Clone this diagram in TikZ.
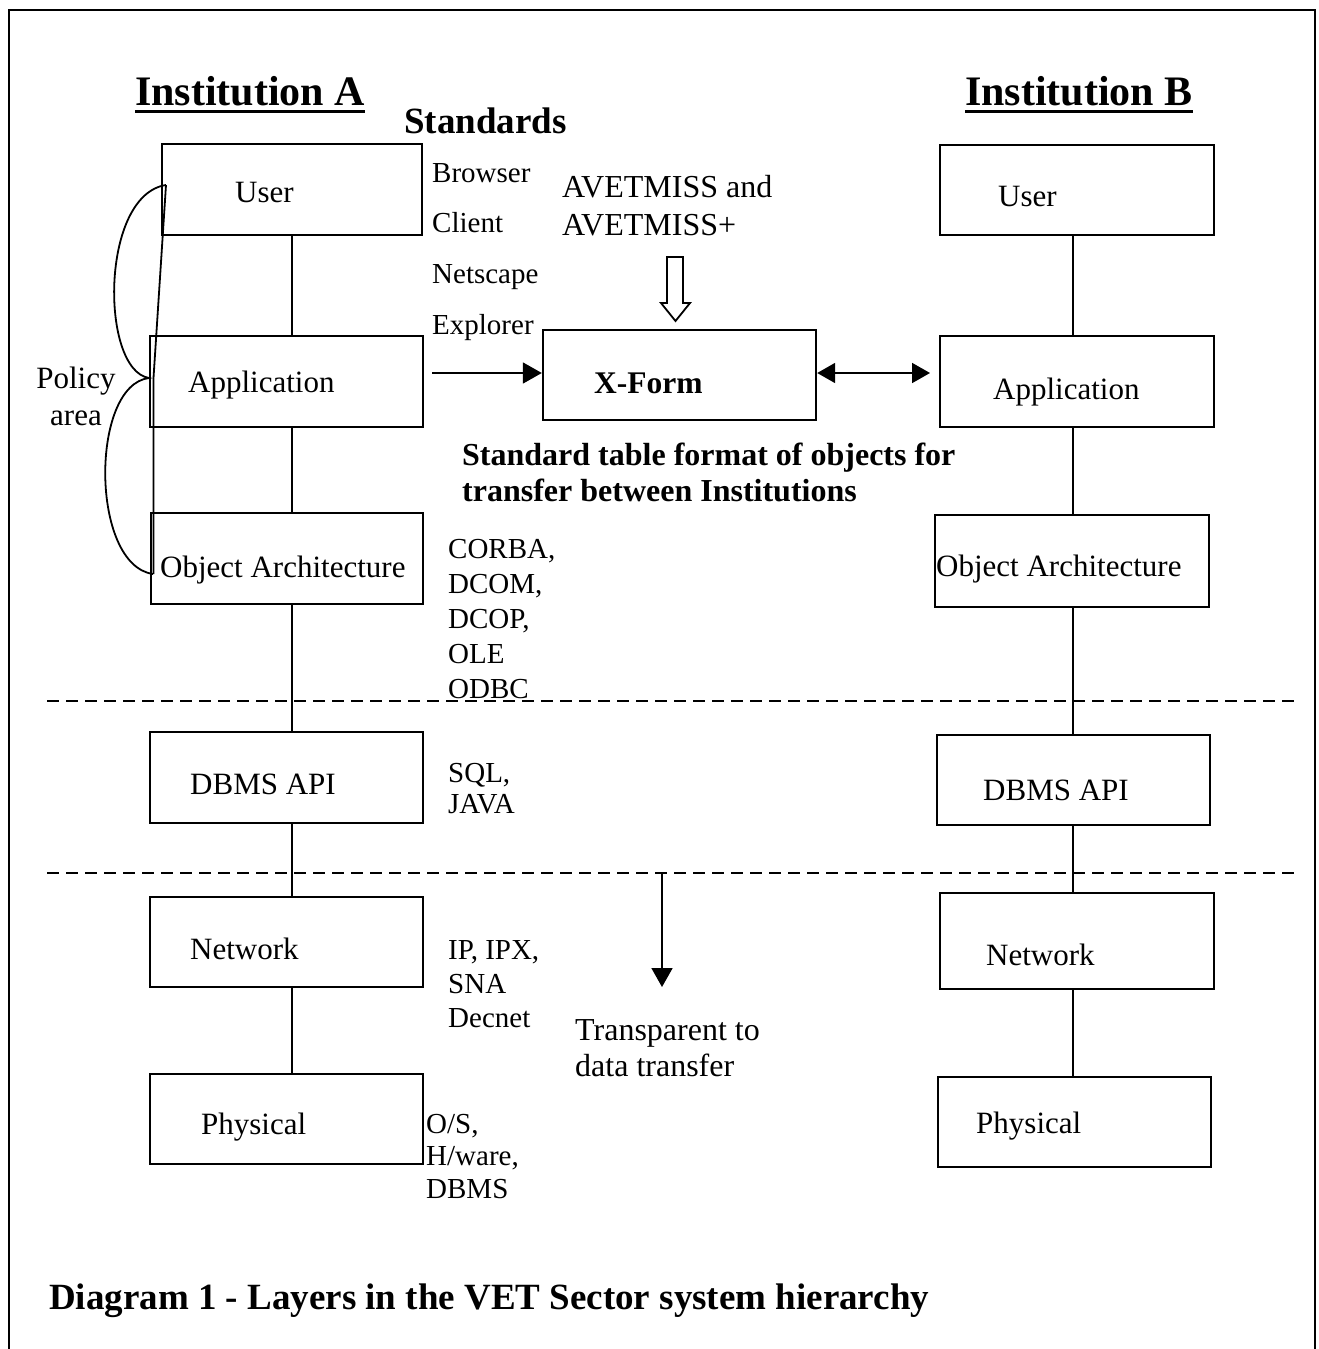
\documentclass[tikz,border=0pt]{standalone}
\usepackage{fontspec}
\setmainfont{Liberation Serif}
\usetikzlibrary{arrows.meta}
\begin{document}
\begin{tikzpicture}[x=1pt,y=-1pt,
  layer/.style={draw, line width=2.4pt, inner sep=0pt},
  txt/.style={inner sep=0pt, anchor=base west, font=\fontsize{31}{36}\selectfont},
  small/.style={inner sep=0pt, anchor=base west, font=\fontsize{29}{34}\selectfont},
  note/.style={inner sep=0pt, anchor=base west, font=\fontsize{32}{38}\selectfont},
  boldtxt/.style={inner sep=0pt, anchor=base west, font=\fontsize{32}{38}\selectfont\bfseries},
  head/.style={inner sep=0pt, anchor=base west, font=\fontsize{42}{50}\selectfont\bfseries},
  link/.style={line width=2.2pt},
  thin/.style={line width=1.8pt},
  arr/.style={line width=1.8pt, -{Triangle[length=19pt,width=21pt]}},
  sep/.style={line width=2.6pt, dash pattern=on 12pt off 7pt},
]
\useasboundingbox (0,0) rectangle (1318,1349);

% outer frame, open at the bottom
\draw[line width=2.8pt] (9,1349) -- (9,10) -- (1315,10) -- (1315,1349);

% headings
\node[head] (insA) at (135,105) {Institution A};
\node[head] (insB) at (965,105) {Institution B};
\draw[line width=3pt] ([yshift=-6pt]insA.base west) -- ([yshift=-6pt]insA.base east);
\draw[line width=3pt] ([yshift=-6pt]insB.base west) -- ([yshift=-6pt]insB.base east);
\node[inner sep=0pt, anchor=base west, font=\fontsize{37}{44}\selectfont\bfseries] (std) at (404,133) {Standards};

% layer boxes, institution A
\node[layer, minimum width=260pt, minimum height=91pt] (ua) at (292,189.5) {};
\node[layer, minimum width=273pt, minimum height=91pt] (aa) at (286.5,381.5) {};
\node[layer, minimum width=272pt, minimum height=91pt] (oa) at (287,558.5) {};
\node[layer, minimum width=273pt, minimum height=91pt] (da) at (286.5,777.5) {};
\node[layer, minimum width=273pt, minimum height=90pt] (na) at (286.5,942) {};
\node[layer, minimum width=273pt, minimum height=90pt] (pa) at (286.5,1119) {};

% layer boxes, institution B
\node[layer, minimum width=274pt, minimum height=90pt] (ub) at (1077,190) {};
\node[layer, minimum width=274pt, minimum height=91pt] (ab) at (1077,381.5) {};
\node[layer, minimum width=274pt, minimum height=92pt] (ob) at (1072,561) {};
\node[layer, minimum width=273pt, minimum height=90pt] (db) at (1073.5,780) {};
\node[layer, minimum width=274pt, minimum height=96pt] (nb) at (1077,941) {};
\node[layer, minimum width=273pt, minimum height=90pt] (pb) at (1074.5,1122) {};

% transfer format box
\node[layer, minimum width=273pt, minimum height=90pt] (xf) at (679.5,375) {};

% box labels
\node[txt] (lua) at (235,202) {User};
\node[txt] (laa) at (188,392) {Application};
\node[txt] (loa) at (160,577) {Object Architecture};
\node[txt] (lda) at (190,794) {DBMS API};
\node[txt] (lna) at (190,959) {Network};
\node[txt] (lpa) at (201,1134) {Physical};
\node[txt] (lub) at (998,206) {User};
\node[txt] (lab) at (993,399) {Application};
\node[txt] (lob) at (936,576) {Object Architecture};
\node[txt] (ldb) at (983,800) {DBMS API};
\node[txt] (lnb) at (986,965) {Network};
\node[txt] (lpb) at (976,1133) {Physical};
\node[inner sep=0pt, anchor=base west, font=\fontsize{31.5}{36}\selectfont\bfseries] (lxf) at (594,393) {X-Form};

% vertical spines joining the layers
\coordinate (spineA) at (292,0);
\coordinate (spineB) at (1073,0);
\draw[link] (spineA |- ua.south) -- (spineA |- aa.north);
\draw[link] (spineA |- aa.south) -- (spineA |- oa.north);
\draw[link] (spineA |- oa.south) -- (spineA |- da.north);
\draw[link] (spineA |- da.south) -- (spineA |- na.north);
\draw[link] (spineA |- na.south) -- (spineA |- pa.north);
\draw[link] (spineB |- ub.south) -- (spineB |- ab.north);
\draw[link] (spineB |- ab.south) -- (spineB |- ob.north);
\draw[link] (spineB |- ob.south) -- (spineB |- db.north);
\draw[link] (spineB |- db.south) -- (spineB |- nb.north);
\draw[link] (spineB |- nb.south) -- (spineB |- pb.north);

% policy area bracket
\draw[thin] (166,185) .. controls (100,195) and (100,370) .. (149,378)
            .. controls (90,385) and (90,565) .. (153,574);
\draw[thin] (166,185) -- (153.5,378) -- (153.5,574);
\node[inner sep=0pt, anchor=base, font=\fontsize{31}{36}\selectfont] (pol1) at (76,388) {Policy};
\node[inner sep=0pt, anchor=base, font=\fontsize{31}{36}\selectfont] (pol2) at (76,425) {area};

% standards per layer
\node[small] (s1) at (432,182) {Browser};
\node[small] (s2) at (432,232) {Client};
\node[small] (s3) at (432,283) {Netscape};
\node[small] (s4) at (432,334) {Explorer};
\node[small] (c1) at (448,558) {CORBA,};
\node[small] (c2) at (448,593) {DCOM,};
\node[small] (c3) at (448,628) {DCOP,};
\node[small] (c4) at (448,663) {OLE};
\node[small] (c5) at (448,698) {ODBC};
\node[small] (q1) at (448,782) {SQL,};
\node[small] (q2) at (448,813) {JAVA};
\node[small] (n1) at (448,959) {IP, IPX,};
\node[small] (n2) at (448,993) {SNA};
\node[small] (n3) at (448,1027) {Decnet};
\node[small] (p1) at (426,1133) {O/S,};
\node[small] (p2) at (426,1165) {H/ware,};
\node[small] (p3) at (426,1198) {DBMS};

% data standard feeding the transfer format
\node[note] (av1) at (562,197) {AVETMISS and};
\node[note] (av2) at (562,235) {AVETMISS+};
\draw[thin, fill=white] (667,257) -- (683,257) -- (683,303) -- (690,303)
      -- (675.5,321) -- (661,303) -- (667,303) -- cycle;

\node[boldtxt] (tf1) at (462,465) {Standard table format of objects for};
\node[boldtxt] (tf2) at (462,501) {transfer between Institutions};

% exchange arrows
\coordinate (fromApp) at (432,373);
\draw[arr] (fromApp) -- (fromApp -| xf.west);
\coordinate (toB) at (930,373);
\draw[line width=1.8pt, {Triangle[length=18pt,width=20pt]}-{Triangle[length=18pt,width=20pt]}] (toB -| xf.east) -- (toB);

% layer separators
\draw[sep] (47,701) -- (1296,701);
\draw[sep] (47,873) -- (1296,873);

% transparency note
\coordinate (tdTop) at (662,873);
\coordinate (tdTip) at (662,987);
\draw[arr] (tdTop) -- (tdTip);
\node[note] (tr1) at (575,1040) {Transparent to};
\node[note] (tr2) at (575,1076) {data transfer};

% caption
\node[inner sep=0pt, anchor=base west, font=\fontsize{37}{44}\selectfont\bfseries] (cap) at (49,1309) {Diagram 1 - Layers in the VET Sector system hierarchy};
\end{tikzpicture}
\end{document}
